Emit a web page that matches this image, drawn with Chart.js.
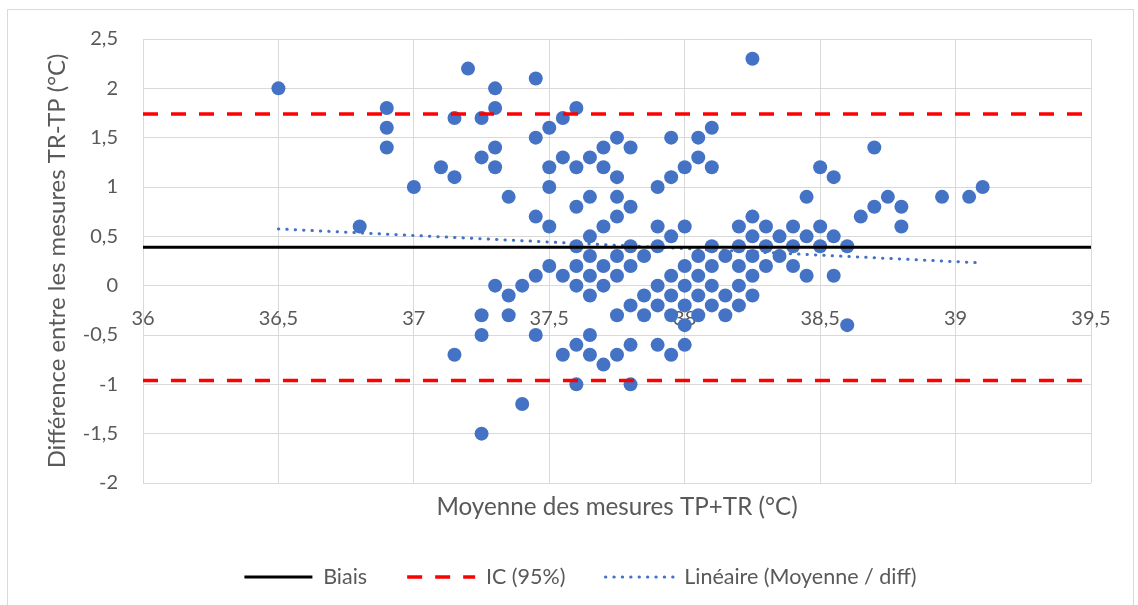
<!DOCTYPE html>
<html><head><meta charset="utf-8">
<script src="https://cdn.jsdelivr.net/npm/chart.js@4.4.1/dist/chart.umd.min.js"></script>
<style>html,body{margin:0;padding:0;background:#fff;}#wrap{width:1138px;height:605px;}</style>
</head><body><div id="wrap"><canvas id="c" width="1138" height="605"></canvas></div>
<script>
// ---- data ----
const meanValues = [
  36.5, 36.8, 36.9, 36.9, 36.9, 37.0, 37.1, 37.15, 37.15, 37.15, 37.2,
  37.25, 37.25, 37.25, 37.25, 37.25,
  37.3, 37.3, 37.3, 37.3, 37.3,
  37.35, 37.35, 37.35, 37.4, 37.4,
  37.45, 37.45, 37.45, 37.45, 37.45,
  37.5, 37.5, 37.5, 37.5, 37.5,
  37.55, 37.55, 37.55, 37.55,
  37.6, 37.6, 37.6, 37.6, 37.6, 37.6, 37.6, 37.6,
  37.65, 37.65, 37.65, 37.65, 37.65, 37.65, 37.65, 37.65,
  37.7, 37.7, 37.7, 37.7, 37.7, 37.7,
  37.75, 37.75, 37.75, 37.75, 37.75, 37.75, 37.75, 37.75,
  37.8, 37.8, 37.8, 37.8, 37.8, 37.8, 37.8,
  37.85, 37.85, 37.85,
  37.9, 37.9, 37.9, 37.9, 37.9, 37.9,
  37.95, 37.95, 37.95, 37.95, 37.95, 37.95, 37.95,
  38.0, 38.0, 38.0, 38.0, 38.0, 38.0, 38.0,
  38.05, 38.05, 38.05, 38.05, 38.05, 38.05,
  38.1, 38.1, 38.1, 38.1, 38.1, 38.1,
  38.15, 38.15, 38.15,
  38.2, 38.2, 38.2, 38.2, 38.2,
  38.25, 38.25, 38.25, 38.25, 38.25, 38.25,
  38.3, 38.3, 38.3, 38.35, 38.35,
  38.4, 38.4, 38.4, 38.45, 38.45, 38.45,
  38.5, 38.5, 38.5, 38.55, 38.55, 38.55,
  38.6, 38.6, 38.65, 38.7, 38.7, 38.75, 38.8, 38.8,
  38.95, 39.05, 39.1
];
const diffValues = [
  2.0, 0.6, 1.8, 1.6, 1.4, 1.0, 1.2, 1.7, 1.1, -0.7, 2.2,
  1.7, 1.3, -0.3, -0.5, -1.5,
  2.0, 1.8, 1.4, 1.2, 0.0,
  0.9, -0.1, -0.3, 0.0, -1.2,
  2.1, 1.5, 0.7, 0.1, -0.5,
  1.6, 1.2, 1.0, 0.6, 0.2,
  1.7, 1.3, 0.1, -0.7,
  1.8, 1.2, 0.8, 0.4, 0.2, 0.0, -0.6, -1.0,
  1.3, 0.9, 0.5, 0.3, 0.1, -0.1, -0.5, -0.7,
  1.4, 1.2, 0.6, 0.2, 0.0, -0.8,
  1.5, 1.1, 0.9, 0.7, 0.3, 0.1, -0.3, -0.7,
  1.4, 0.8, 0.4, 0.2, -0.2, -0.6, -1.0,
  0.3, -0.1, -0.3,
  1.0, 0.6, 0.4, 0.0, -0.2, -0.6,
  1.5, 1.1, 0.5, 0.1, -0.1, -0.3, -0.7,
  1.2, 0.6, 0.2, 0.0, -0.2, -0.4, -0.6,
  1.5, 1.3, 0.3, 0.1, -0.1, -0.3,
  1.6, 1.2, 0.4, 0.2, 0.0, -0.2,
  0.3, -0.1, -0.3,
  0.6, 0.4, 0.2, 0.0, -0.2,
  2.3, 0.7, 0.5, 0.3, 0.1, -0.1,
  0.6, 0.4, 0.2, 0.5, 0.3,
  0.6, 0.4, 0.2, 0.9, 0.5, 0.1,
  1.2, 0.6, 0.4, 1.1, 0.5, 0.1,
  0.4, -0.4, 0.7, 1.4, 0.8, 0.9, 0.8, 0.6,
  0.9, 0.9, 1.0
];
const biasValue = 0.39;
const upperLimit = 1.74;
const lowerLimit = -0.96;
const lineSpanX = [36, 39.5];
const trendX = [36.5, 39.1];
const trendY = [0.575, 0.23];
const xMin = 36, xMax = 39.5, yMin = -2, yMax = 2.5, tickStep = 0.5;
const biasLabel = 'Biais';
const icLabel = 'IC (95%)';
const trendLabel = 'Linéaire (Moyenne / diff)';
const pointsLabel = 'Moyenne / diff';
const xTitle = 'Moyenne des mesures TP+TR (°C)';
const yTitle = 'Différence entre les mesures TR-TP (°C)';

// ---- styling ----
const FONT = 'Lato, "Open Sans", sans-serif';
const TEXT = '#595959';
const GRID = '#d9d9d9';
const BLUE = '#4472C4';
const fmt = v => String(Math.round(v * 10) / 10).replace('.', ',');

const points = meanValues.map((x, i) => ({x, y: diffValues[i]}));
const hline = v => lineSpanX.map(x => ({x, y: v}));
const trend = trendX.map((x, i) => ({x, y: trendY[i]}));

const frame = {
  id: 'frame',
  beforeDraw(chart) {
    const c = chart.ctx;
    c.save();
    c.fillStyle = '#fff';
    c.fillRect(0, 0, chart.width, chart.height);
    c.strokeStyle = GRID; c.lineWidth = 1;
    c.beginPath();
    c.moveTo(7.5, 605); c.lineTo(7.5, 9.5); c.lineTo(1133.5, 9.5); c.lineTo(1133.5, 605);
    c.stroke();
    c.restore();
  }
};

new Chart(document.getElementById('c'), {
  type: 'scatter',
  data: {
    datasets: [
      {label: biasLabel, data: hline(biasValue), showLine: true, borderColor: '#000', backgroundColor: '#000',
       borderWidth: 3, pointRadius: 0, order: 0},
      {label: icLabel, data: hline(upperLimit), showLine: true, borderColor: '#FF0000', backgroundColor: '#FF0000',
       borderWidth: 3.5, borderDash: [15, 13], pointRadius: 0, order: 0},
      {label: '', data: hline(lowerLimit), showLine: true, borderColor: '#FF0000', backgroundColor: '#FF0000',
       borderWidth: 3.5, borderDash: [15, 13], pointRadius: 0, order: 0},
      {label: trendLabel, data: trend, showLine: true, borderColor: BLUE, backgroundColor: BLUE,
       borderWidth: 3, borderDash: [0.4, 8], borderCapStyle: 'round', pointRadius: 0, order: 0},
      {label: pointsLabel, data: points, showLine: false, backgroundColor: BLUE, borderColor: BLUE,
       borderWidth: 0, pointRadius: 7, pointHoverRadius: 7, order: 1}
    ]
  },
  options: {
    responsive: false,
    animation: false,
    events: [],
    layout: {padding: {left: 23, right: 0, top: 39, bottom: 7.25}},
    scales: {
      x: {
        type: 'linear', min: xMin, max: xMax, position: {y: 0},
        ticks: {stepSize: tickStep, callback: v => fmt(v), color: TEXT, padding: 21,
                font: {family: FONT, size: 20}, maxRotation: 0},
        grid: {color: GRID, lineWidth: 1, drawTicks: false},
        border: {color: GRID, width: 1}
      },
      xt: {
        type: 'linear', min: xMin, max: xMax, position: 'bottom',
        ticks: {display: false}, grid: {display: false}, border: {display: false},
        title: {display: true, text: xTitle, color: TEXT, font: {family: FONT, size: 24.2},
                padding: {top: 10, bottom: 5}},
        afterFit: s => { s.height = 43.25; }
      },
      y: {
        type: 'linear', min: yMin, max: yMax, position: 'left',
        ticks: {stepSize: tickStep, callback: v => fmt(v), color: TEXT, padding: 25,
                font: {family: FONT, size: 20}},
        grid: {color: GRID, lineWidth: 1, drawTicks: false},
        border: {color: GRID, width: 1},
        title: {display: true, text: yTitle, color: TEXT, font: {family: FONT, size: 23.9},
                padding: {top: 19.6, bottom: 0}},
        afterFit: s => { s.width = 120; }
      },
      yr: {
        type: 'linear', min: yMin, max: yMax, position: 'right',
        ticks: {display: false}, grid: {display: false}, border: {display: false},
        afterFit: s => { s.width = 47; }
      }
    },
    plugins: {
      tooltip: {enabled: false},
      legend: {
        position: 'bottom',
        labels: {
          usePointStyle: true, pointStyle: 'line', pointStyleWidth: 68, padding: 40,
          color: TEXT, font: {family: FONT, size: 21.5},
          filter: item => item.text !== '' && item.text !== pointsLabel,
          generateLabels: chart => Chart.defaults.plugins.legend.labels.generateLabels(chart).map(item => {
            const ds = chart.data.datasets[item.datasetIndex];
            item.lineDash = ds.borderDash || [];
            item.lineWidth = ds.borderWidth;
            item.lineCap = ds.borderCapStyle || 'butt';
            item.strokeStyle = ds.borderColor;
            return item;
          })
        }
      }
    }
  },
  plugins: [frame]
});
</script>
</body></html>
